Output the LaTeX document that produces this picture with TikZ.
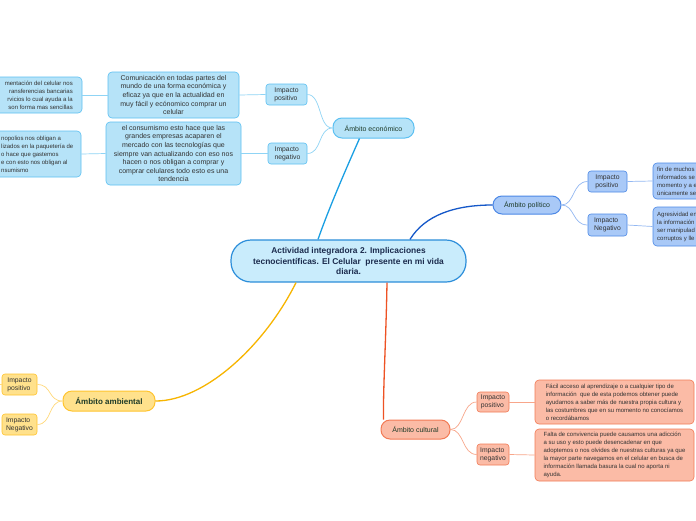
\documentclass[tikz,border=0pt]{standalone}
\usepackage{fontspec}
\setmainfont{Liberation Sans}
\definecolor{centF}{HTML}{C9ECFC}
\definecolor{centD}{HTML}{2C8EDA}
\definecolor{ecoF}{HTML}{B6E3F8}
\definecolor{ecoD}{HTML}{5CC0F2}
\definecolor{ecoL}{HTML}{1A9FE3}
\definecolor{ecoC}{HTML}{8FD4F5}
\definecolor{polF}{HTML}{A9C9F7}
\definecolor{polD}{HTML}{4C88E6}
\definecolor{polL}{HTML}{1558C9}
\definecolor{polC}{HTML}{93B8F2}
\definecolor{ambF}{HTML}{FFE18C}
\definecolor{ambD}{HTML}{FFC42E}
\definecolor{ambL}{HTML}{F7B500}
\definecolor{ambC}{HTML}{FFD97A}
\definecolor{culF}{HTML}{FBBBA6}
\definecolor{culD}{HTML}{F27A55}
\definecolor{culL}{HTML}{EE5224}
\definecolor{culC}{HTML}{F8A68A}
\definecolor{txt}{HTML}{333333}
\definecolor{ttl}{HTML}{1E3B28}
\definecolor{ctxt}{HTML}{1B2B4D}
\tikzset{
  cent/.style={draw=centD, fill=centF, line width=1.2pt, rounded corners=20pt, text=ctxt,
    font=\fontsize{8.4}{10.6}\selectfont\bfseries, align=center, inner sep=1pt},
  lvl/.style={rounded corners=9pt, line width=1pt, font=\fontsize{7}{8}\selectfont, text=ttl, align=center, inner sep=1pt},
  sub/.style={rounded corners=3pt, line width=0.6pt, font=\fontsize{6.8}{8.2}\selectfont, text=txt, align=left, inner sep=1pt},
  body/.style={rounded corners=4pt, line width=0.6pt, font=\fontsize{7}{8.6}\selectfont, text=txt, align=center, inner sep=1pt},
  small/.style={rounded corners=4pt, line width=0.6pt, font=\fontsize{6}{8}\selectfont, text=txt, align=left, inner sep=1pt},
  frag/.style={font=\fontsize{6}{8}\selectfont, text=txt, inner sep=0pt},
  eco/.style={draw=ecoD, fill=ecoF},
  pol/.style={draw=polD, fill=polF},
  amb/.style={draw=ambD, fill=ambF},
  cul/.style={draw=culD, fill=culF},
  mainln/.style={line width=1.3pt},
  childln/.style={line width=0.7pt}
}
\begin{document}
\begin{tikzpicture}[x=1pt,y=-1pt]
\useasboundingbox (0,0) rectangle (696,520);
\fill[white] (0,0) rectangle (696,520);
\clip (0,0) rectangle (696,520);

% central
\node[cent, minimum width=235pt, minimum height=42pt] (c) at (348.5,261)
  {Actividad integradora 2. Implicaciones\\tecnocientíficas. El Celular\ \ presente en mi vida\\diaria.};

% economic
\node[lvl, eco, minimum width=81pt, minimum height=20pt] (eco) at (373.5,128) {Ámbito económico};
\node[sub, eco, minimum width=41pt, minimum height=21pt] (ecoP) at (286.5,94.5) {Impacto\\positivo};
\node[sub, eco, minimum width=39pt, minimum height=21pt] (ecoN) at (287.5,153.5) {Impacto\\negativo};
\node[body, eco, minimum width=131pt, minimum height=46pt] (com) at (173.5,95)
  {Comunicación en todas partes del\\mundo de una forma económica y\\eficaz ya que en la actualidad en\\muy fácil y ecónomico comprar un\\celular};
\node[body, eco, minimum width=135pt, minimum height=63pt] (cons) at (173.5,153.5)
  {el consumismo esto hace que las\\grandes empresas acaparen el\\mercado con las tecnologías que\\siempre van actualizando con eso nos\\hacen o nos obligan a comprar y\\comprar celulares todo esto es una\\tendencia};
\node[body, eco, minimum width=142pt, minimum height=36pt] (left1) at (11,95) {};
\node[frag, anchor=east, align=right] (left1t) at (73,95)
  {mentación del celular nos\\ransferencias bancarias\\rvicios lo cual ayuda a la\\son forma mas sencillas};
\node[body, eco, minimum width=141pt, minimum height=46pt] (left2) at (10.5,154) {};
\node[frag, anchor=west, align=left] (left2t) at (1,154)
  {nopolios nos obligan a\\lizados en la paquetería de\\o hace que gastemos\\e con esto nos obligan al\\nsumismo};

% political
\node[lvl, pol, minimum width=68pt, minimum height=18pt] (pol) at (527,205) {Ámbito político};
\node[sub, pol, minimum width=39pt, minimum height=21pt] (polP) at (607.5,181.5) {Impacto\\positivo};
\node[sub, pol, minimum width=39pt, minimum height=22pt] (polN) at (607.5,225) {Impacto\\Negativo};
\node[small, pol, minimum width=107pt, minimum height=36pt] (polT1) at (706.5,181) {};
\node[frag, anchor=west, align=left] (polT1t) at (657,181)
  {fin de muchos\\informados se\\momento y a e\\únicamente se};
\node[small, pol, minimum width=107pt, minimum height=39pt] (polT2) at (706.5,226.5) {};
\node[frag, anchor=west, align=left] (polT2t) at (657,226.5)
  {Agresividad en\\la información\\ser manipulad\\corruptos y lle};

% environmental
\node[lvl, amb, minimum width=92pt, minimum height=20pt, font=\fontsize{8}{9}\selectfont\bfseries] (amb) at (109,401) {Ámbito ambiental};
\node[sub, amb, minimum width=35pt, minimum height=21pt] (ambP) at (19.5,384.5) {Impacto\\positivo};
\node[sub, amb, minimum width=35pt, minimum height=21pt] (ambN) at (19.5,424.5) {Impacto\\Negativo};
\coordinate (ambPend) at (-20,384.5);

% cultural
\node[lvl, cul, minimum width=69pt, minimum height=19pt] (cul) at (415.5,429.5) {Ámbito cultural};
\node[sub, cul, minimum width=32pt, minimum height=20pt] (culP) at (493,402) {Impacto\\positivo};
\node[sub, cul, minimum width=32pt, minimum height=21pt] (culN) at (493,454.5) {Impacto\\negativo};
\node[small, cul, minimum width=159pt, minimum height=44pt] (culT1) at (614.5,402)
  {Fácil acceso al aprendizaje o a cualquier tipo de\\información\ \ que de esta podemos obtener puede\\ayudarnos a saber más de nuestra propia cultura y\\las costumbres que en su momento no conocíamos\\o recordábamos};
\node[small, cul, minimum width=159pt, minimum height=52pt, font=\fontsize{6}{7.9}\selectfont] (culT2) at (614.5,455)
  {Falta de convivencia puede causamos una adicción\\a su uso y esto puede desencadenar en que\\adoptemos o nos olvides de nuestras culturas ya que\\la mayor parte navegamos en el celular en busca de\\información llamada basura la cual no aporta ni\\ayuda.};

% main branches
\draw[ecoL, mainln] ([xshift=-30.5pt]c.north) .. controls (330,205) and (350,160) .. ([xshift=-14pt]eco.south);
\draw[polL, mainln] ([xshift=61.5pt]c.north) .. controls (425,215) and (455,205) .. (pol.west);
\draw[ambL, mainln] ([xshift=-52.5pt]c.south) .. controls (265,345) and (205,401) .. (amb.east);
\draw[culL, mainln] ([xshift=38.5pt]c.south) .. controls (386,340) and (383,390) .. ([xshift=-32pt]cul.north);

% economic children
\draw[ecoC, childln] (eco.west) .. controls (318,128) and (322,94.5) .. (ecoP.east);
\draw[ecoC, childln] (eco.west) .. controls (318,128) and (322,153.5) .. (ecoN.east);
\draw[ecoC, childln] (ecoP.west) -- (com.east);
\draw[ecoC, childln] (ecoN.west) -- (cons.east);
\draw[ecoC, childln] (com.west) -- (left1.east);
\draw[ecoC, childln] (cons.west) -- (left2.east);

% political children
\draw[polC, childln] (pol.east) .. controls (575,205) and (572,181.5) .. (polP.west);
\draw[polC, childln] (pol.east) .. controls (575,205) and (572,225) .. (polN.west);
\draw[polC, childln] (polP.east) -- (polT1.west);
\draw[polC, childln] (polN.east) -- (polT2.west);

% environmental children
\draw[ambC, childln] (amb.west) .. controls (48,401) and (52,384.5) .. (ambP.east);
\draw[ambC, childln] (amb.west) .. controls (48,401) and (52,424.5) .. (ambN.east);
\draw[ambC, childln] (ambP.west) -- (ambPend);

% cultural children
\draw[culC, childln] (cul.east) .. controls (464,429.5) and (462,402) .. (culP.west);
\draw[culC, childln] (cul.east) .. controls (464,429.5) and (462,454.5) .. (culN.west);
\draw[culC, childln] (culP.east) -- (culT1.west);
\draw[culC, childln] (culN.east) -- (culT2.west);
\end{tikzpicture}
\end{document}
